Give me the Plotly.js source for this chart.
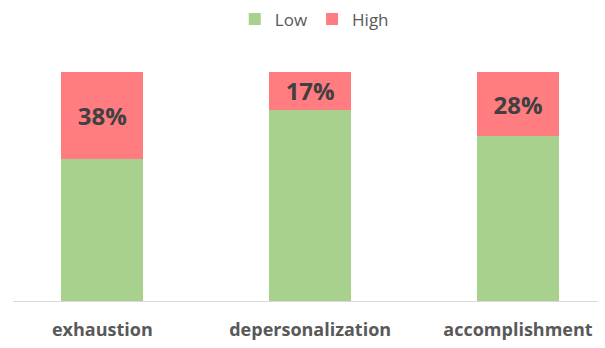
<!DOCTYPE html>
<html><head><meta charset="utf-8">
<script src="https://cdn.plot.ly/plotly-3.0.1.min.js"></script>
<style>html,body{margin:0;padding:0;background:#fff}</style>
</head><body>
<div id="chart" style="width:605px;height:348px"></div>
<script>
const categories = ["exhaustion", "depersonalization", "accomplishment"];
const lowValues = [0.62, 0.835, 0.72];
const highValues = [0.38, 0.165, 0.28];
const highLabels = ["38%", "17%", "28%"];

const font = "'Open Sans', sans-serif";
const data = [
  {type: "bar", name: "Low", x: categories, y: lowValues, marker: {color: "#a9d18e"}, width: 0.395, hoverinfo: "skip"},
  {type: "bar", name: "High", x: categories, y: highValues, marker: {color: "#ff7c80"}, width: 0.395,
   text: highLabels, textposition: "inside", insidetextanchor: "middle", constraintext: "none",
   textfont: {family: font, size: 24, color: "#404040", weight: "bold"}, hoverinfo: "skip"}
];
const layout = {
  width: 605, height: 348,
  margin: {l: 13, r: 7, t: 72, b: 47, autoexpand: false},
  barmode: "stack",
  showlegend: true,
  legend: {orientation: "h", x: 0.515, xanchor: "center", y: 1.23, yanchor: "middle",
    font: {family: font, size: 17, color: "#595959"}, traceorder: "normal"},
  xaxis: {range: [-0.43, 2.385], showline: true, linecolor: "#d9d9d9", linewidth: 1,
    ticks: "", tickfont: {family: font, size: 18, color: "#595959", weight: "bold"}, ticklabelstandoff: 12, fixedrange: true},
  yaxis: {range: [0, 1], visible: false, fixedrange: true},
  paper_bgcolor: "#fff", plot_bgcolor: "#fff"
};
Plotly.newPlot("chart", data, layout, {displayModeBar: false, staticPlot: true});
</script>
</body></html>
